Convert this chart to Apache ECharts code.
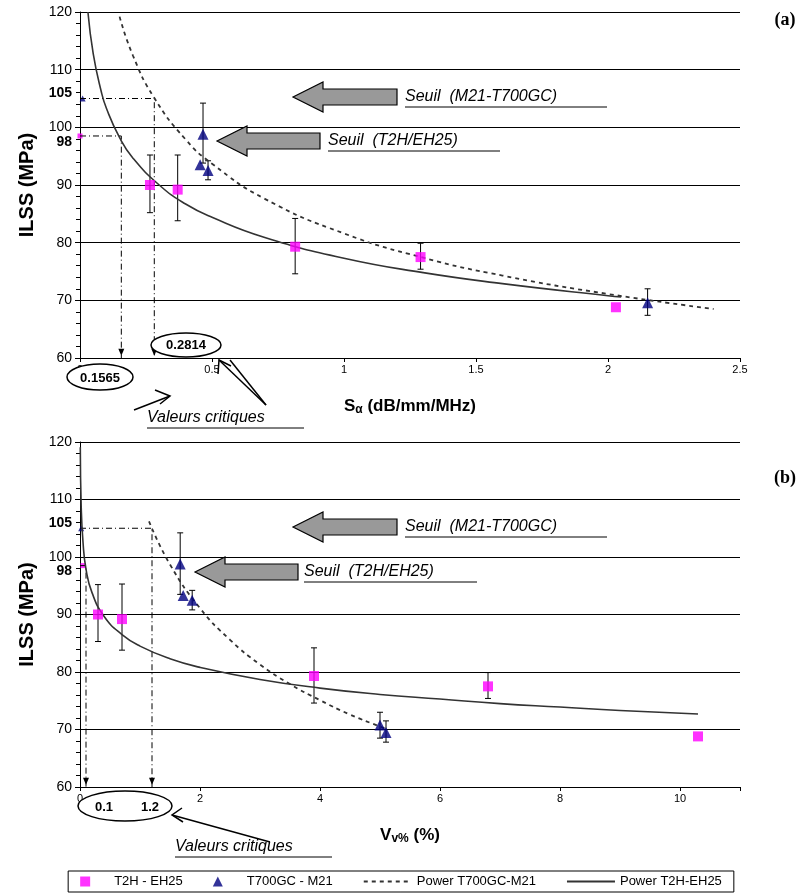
<!DOCTYPE html>
<html>
<head>
    <meta charset="utf-8">
    <title>ILSS</title>
    <script src="https://cdn.jsdelivr.net/npm/echarts@6/dist/echarts.min.js"></script>
    <style>body{margin:0;background:#fff}</style>
</head>
<body>
    <div id="main" style="width: 802px;height:894px;"></div>
    <script type="text/javascript">
        // (a) ILSS vs S_alpha
        var aT2H = [[0.265, 90], [0.37, 89.2], [0.815, 79.3], [1.29, 77.5], [2.03, 68.8]];
        var aT2HErr = [[0.265, 85.2, 95.2], [0.37, 83.8, 95.2], [0.815, 74.6, 84.2], [1.29, 75.4, 79.9]];
        var aT700 = [[0.466, 98.8], [0.455, 93.5], [0.485, 92.5], [2.15, 69.6]];
        var aT700Err = [[0.466, 93.8, 104.2], [0.485, 90.9, 94.2], [2.15, 67.4, 72]];
        var aPowT700 = [[0.15, 119.2], [0.2, 112.5], [0.28, 105.2], [0.4, 97.9], [0.5, 93.7], [0.7, 87.6],
                        [1.0, 81.6], [1.3, 77.4], [1.6, 74.3], [2.0, 71.1], [2.4, 68.5]];
        var aPowT2H = [[0.03, 120], [0.05, 112.8], [0.08, 106.3], [0.1, 103.3], [0.15, 98.2], [0.2, 94.7],
                       [0.3, 90], [0.4, 86.7], [0.5, 84.4], [0.7, 80.9], [1.0, 77.3], [1.3, 74.8],
                       [1.6, 72.9], [2.0, 70.8], [2.05, 70.6]];
        var aCritT700 = [[0, 105], [0.2814, 105], [0.2814, 60]];
        var aCritT2H = [[0, 98.5], [0.1565, 98.5], [0.1565, 60]];

        // (b) ILSS vs Vv%
        var bT2H = [[0.3, 90], [0.7, 89.2], [3.9, 79.3], [6.8, 77.5], [10.3, 68.8]];
        var bT2HErr = [[0.3, 85.3, 95.2], [0.7, 83.8, 95.3], [3.9, 74.6, 84.2], [6.8, 75.4, 79.9]];
        var bT700 = [[1.67, 98.8], [1.72, 93.3], [1.87, 92.5], [5.0, 70.8], [5.1, 69.5]];
        var bT700Err = [[1.67, 93.5, 104.2], [1.87, 90.8, 94.2], [5.0, 68.5, 73], [5.1, 67.8, 71.5]];
        var bPowT700 = [[1.15, 106.2], [1.5, 98.7], [2, 91.1], [2.5, 85.6], [3, 81.3], [3.5, 77.9],
                        [4, 75.1], [4.5, 72.6], [5, 70.5], [5.1, 70.1]];
        var bPowT2H = [[0.005, 119.1], [0.02, 108.8], [0.05, 102.6], [0.1, 97.9], [0.2, 93.8], [0.4, 89.7],
                       [0.7, 86.5], [1, 84.5], [1.5, 82.3], [2, 80.8], [3, 78.7], [4, 77.2], [5, 76.1],
                       [6, 75.3], [7, 74.5], [8, 73.9], [9, 73.3], [10.3, 72.7]];
        var bCritT700 = [[0, 105], [1.2, 105], [1.2, 60]];
        var bCritT2H = [[0, 98.5], [0.1, 98.5], [0.1, 60]];

        var seriesNames = ['T2H - EH25', 'T700GC - M21', 'Power T700GC-M21', 'Power T2H-EH25'];
        var yTicks = [98, 105];

        var myChart = echarts.init(document.getElementById('main'));
        var F = 'Arial, Liberation Sans, sans-serif';

        function errBars(data, idx) {
            return {
                type: 'custom', xAxisIndex: idx, yAxisIndex: idx, silent: true, z: 3,
                data: data,
                renderItem: function (params, api) {
                    var lo = api.coord([api.value(0), api.value(1)]);
                    var hi = api.coord([api.value(0), api.value(2)]);
                    var st = {stroke: '#000', lineWidth: 1};
                    return {type: 'group', children: [
                        {type: 'line', shape: {x1: lo[0], y1: lo[1], x2: hi[0], y2: hi[1]}, style: st},
                        {type: 'line', shape: {x1: lo[0] - 3, y1: lo[1], x2: lo[0] + 3, y2: lo[1]}, style: st},
                        {type: 'line', shape: {x1: hi[0] - 3, y1: hi[1], x2: hi[0] + 3, y2: hi[1]}, style: st}
                    ]};
                }
            };
        }
        function crit(data, idx) {
            return {
                type: 'line', xAxisIndex: idx, yAxisIndex: idx, data: data, silent: true,
                symbol: 'none', lineStyle: {color: '#000', width: 1, type: [6, 3, 1, 3]},
                markPoint: {symbol: 'triangle', symbolSize: [6, 7], symbolRotate: 180,
                    itemStyle: {color: '#000'}, label: {show: false},
                    data: [{coord: [data[2][0], 61]}]}
            };
        }
        function yAx(idx) {
            return {
                gridIndex: idx, min: 60, max: 120, interval: 10,
                axisLine: {show: true, lineStyle: {color: '#000'}},
                axisTick: {show: true, length: 5, lineStyle: {color: '#000'}},
                minorTick: {show: true, splitNumber: 5, length: 4, lineStyle: {color: '#000'}},
                splitLine: {lineStyle: {color: '#000', width: 1}},
                axisLabel: {color: '#000', fontFamily: F, fontSize: 14, margin: 8},
                name: 'ILSS (MPa)', nameLocation: 'middle', nameGap: 42, nameRotate: 90,
                nameTextStyle: {color: '#000', fontFamily: F, fontSize: 20, fontWeight: 'bold'}
            };
        }
        function xAx(idx, max, interval, name) {
            return {
                gridIndex: idx, type: 'value', min: 0, max: max, interval: interval,
                axisLine: {onZero: false, lineStyle: {color: '#000'}},
                axisTick: {length: 4, lineStyle: {color: '#000'}},
                splitLine: {show: false},
                axisLabel: {color: '#000', fontFamily: F, fontSize: 11, margin: 6,
                    formatter: function (v) { return v === max ? (idx === 0 ? '2.5' : '') : String(v); }},
                name: name, nameLocation: 'middle', nameGap: 38,
                nameTextStyle: {color: '#000', fontFamily: F, fontSize: 17, fontWeight: 'bold',
                    rich: {s: {fontFamily: F, fontSize: 12, fontWeight: 'bold', verticalAlign: 'bottom', padding: [8, 0, 0, 0]},
                           t: {fontFamily: F, fontSize: 17, fontWeight: 'bold'}}}
            };
        }
        function sq(data, idx) {
            return {name: seriesNames[0], type: 'scatter', xAxisIndex: idx, yAxisIndex: idx, data: data,
                symbol: 'rect', symbolSize: 10, itemStyle: {color: '#ff00ff'}, z: 5};
        }
        function tri(data, idx) {
            return {name: seriesNames[1], type: 'scatter', xAxisIndex: idx, yAxisIndex: idx, data: data,
                symbol: 'triangle', symbolSize: 11, itemStyle: {color: '#000080'}, z: 5};
        }
        function pow(name, data, idx, dashed) {
            return {name: name, type: 'line', xAxisIndex: idx, yAxisIndex: idx, data: data, smooth: true,
                symbol: 'none', itemStyle: {color: '#333'},
                lineStyle: {color: '#333', width: dashed ? 1.8 : 1.6, type: dashed ? [4, 4] : 'solid'}};
        }

        var option = {
            animation: false,
            grid: [
                {left: 80, right: 62, top: 12, height: 346},
                {left: 80, right: 62, top: 442, height: 345}
            ],
            legend: {
                bottom: 2, left: 'center', itemGap: 30, itemWidth: 48, itemHeight: 10,
                borderColor: '#000', borderWidth: 1, borderRadius: 0, padding: [4, 12],
                textStyle: {color: '#000', fontFamily: F, fontSize: 13},
                data: [
                    {name: seriesNames[0], icon: 'path://M0,0h10v10h-10z'},
                    {name: seriesNames[1], icon: 'path://M5,0L10,10H0z'},
                    {name: seriesNames[2], itemStyle: {opacity: 0}},
                    {name: seriesNames[3], itemStyle: {opacity: 0}}
                ]
            },
            xAxis: [
                xAx(0, 2.5, 0.5, '{t|S}{s|α}{t| (dB/mm/MHz)}'),
                xAx(1, 11, 2, '{t|V}{s|v%}{t| (%)}')
            ],
            yAxis: [yAx(0), yAx(1)],
            series: [
                crit(aCritT700, 0), crit(aCritT2H, 0), crit(bCritT700, 1), crit(bCritT2H, 1),
                errBars(aT2HErr, 0), errBars(aT700Err, 0), errBars(bT2HErr, 1), errBars(bT700Err, 1),
                pow(seriesNames[2], aPowT700, 0, true), pow(seriesNames[3], aPowT2H, 0, false),
                pow(seriesNames[2], bPowT700, 1, true), pow(seriesNames[3], bPowT2H, 1, false),
                sq(aT2H, 0), tri(aT700, 0), sq(bT2H, 1), tri(bT700, 1),
                {type: 'scatter', xAxisIndex: 0, yAxisIndex: 0, data: [[0, 98.5]], symbol: 'rect', symbolSize: 5, itemStyle: {color: '#ff00ff'}, silent: true},
                {type: 'scatter', xAxisIndex: 0, yAxisIndex: 0, data: [[0.01, 105]], symbol: 'triangle', symbolSize: 6, itemStyle: {color: '#000080'}, silent: true},
                {type: 'scatter', xAxisIndex: 1, yAxisIndex: 1, data: [[0.05, 98.5]], symbol: 'rect', symbolSize: 5, itemStyle: {color: '#ff00ff'}, silent: true},
                {type: 'scatter', xAxisIndex: 1, yAxisIndex: 1, data: [[0.02, 105]], symbol: 'triangle', symbolSize: 6, itemStyle: {color: '#000080'}, silent: true}
            ]
        };
        myChart.setOption(option);

        // annotations
        function bigArrow(x1, x2, y) {
            var h = 8, hh = 15, head = 30;
            return {type: 'polygon', z: 10, shape: {points: [
                [x1, y], [x1 + head, y - hh], [x1 + head, y - h], [x2, y - h], [x2, y + h], [x1 + head, y + h], [x1 + head, y + hh]
            ]}, style: {fill: '#999', stroke: '#000', lineWidth: 1.2}};
        }
        function uText(x, y, txt, size) {
            return {type: 'text', z: 10, x: x, y: y, style: {text: txt, fill: '#000', font: 'italic ' + size + 'px ' + F,
                textVerticalAlign: 'middle'}};
        }
        function uLine(x1, x2, y) {
            return {type: 'line', z: 10, shape: {x1: x1, y1: y, x2: x2, y2: y}, style: {stroke: '#000', lineWidth: 1}};
        }
        function ell(cx, cy, rx, ry) {
            return {type: 'ellipse', z: 10, shape: {cx: cx, cy: cy, rx: rx, ry: ry}, style: {fill: '#fff', stroke: '#000', lineWidth: 1.5}};
        }
        function bText(x, y, txt, size, align) {
            return {type: 'text', z: 11, x: x, y: y, style: {text: txt, fill: '#000', font: 'bold ' + size + 'px ' + F,
                textAlign: align || 'center', textVerticalAlign: 'middle'}};
        }
        function pline(pts, w) {
            return {type: 'polyline', z: 10, shape: {points: pts}, style: {stroke: '#000', lineWidth: w || 1.5, fill: null}};
        }
        var g = [
            bigArrow(293, 397, 97), uText(405, 97, 'Seuil  (M21-T700GC)', 16), uLine(405, 607, 107),
            bigArrow(217, 320, 141), uText(328, 141, 'Seuil  (T2H/EH25)', 16), uLine(328, 500, 151),
            bigArrow(293, 397, 527), uText(405, 527, 'Seuil  (M21-T700GC)', 16), uLine(405, 607, 537),
            bigArrow(195, 298, 572), uText(304, 572, 'Seuil  (T2H/EH25)', 16), uLine(304, 477, 582),
            ell(100, 377, 33, 13), bText(100, 378, '0.1565', 13),
            ell(186, 345, 35, 12), bText(186, 345, '0.2814', 13),
            ell(125, 806, 47, 15), bText(104, 807, '0.1', 13), bText(150, 807, '1.2', 13),
            uText(147, 418, 'Valeurs critiques', 16), uLine(147, 304, 428),
            uText(175, 847, 'Valeurs critiques', 16), uLine(175, 332, 857),
            pline([[134, 410], [170, 396]]), pline([[155, 390], [170, 396], [160, 404]]),
            pline([[266, 405], [219, 360]]), pline([[218, 374], [219, 360], [231, 366]]),
            pline([[266, 405], [230, 360]]),
            pline([[270, 842], [172, 815]]), pline([[182, 808], [172, 815], [183, 822]]),
            {type: 'text', x: 785, y: 20, style: {text: '(a)', fill: '#000', font: 'bold 18px Liberation Serif, serif', textAlign: 'center', textVerticalAlign: 'middle'}},
            {type: 'text', x: 785, y: 478, style: {text: '(b)', fill: '#000', font: 'bold 18px Liberation Serif, serif', textAlign: 'center', textVerticalAlign: 'middle'}}
        ];
        [0, 1].forEach(function (i) {
            yTicks.forEach(function (v) {
                var p = myChart.convertToPixel({gridIndex: i}, [0, v]);
                g.push({type: 'rect', z: 9, shape: {x: 40, y: p[1] - 7, width: 31, height: 14}, style: {fill: '#fff'}});
                g.push(bText(p[0] - 8, p[1] + (v === 105 ? -5 : 3), String(v), 14, 'right'));
            });
        });
        myChart.setOption({graphic: g});
    </script>
</body>
</html>
